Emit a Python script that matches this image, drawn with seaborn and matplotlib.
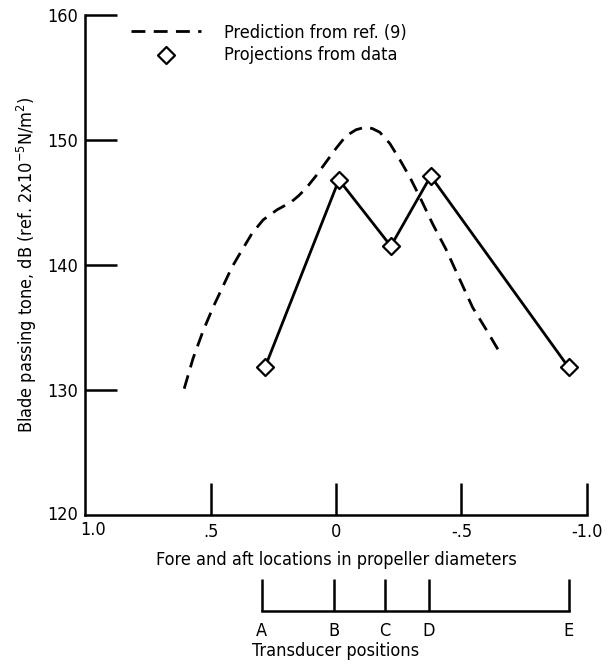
import matplotlib
matplotlib.use("Agg")
import matplotlib.pyplot as plt
import seaborn as sns
import pandas as pd

# Prediction from ref. (9) - dashed curve
pred_x = [0.605, 0.57, 0.53, 0.49, 0.45, 0.415, 0.38, 0.335, 0.29, 0.235, 0.18, 0.15, 0.12, 0.08,
          0.04, 0.0, -0.04, -0.08, -0.115, -0.145, -0.175, -0.215, -0.255, -0.295, -0.335,
          -0.385, -0.44, -0.49, -0.545, -0.6, -0.653]
pred_y = [130.1, 132.5, 134.7, 136.6, 138.3, 139.8, 141.0, 142.5, 143.6, 144.4, 145.0, 145.5, 146.1, 147.1,
          148.2, 149.3, 150.3, 150.8, 151.0, 150.9, 150.6, 149.7, 148.4, 147.0, 145.4,
          143.3, 141.2, 139.0, 136.6, 134.8, 133.0]

# Projections from data
proj_x = [0.283, -0.012, -0.219, -0.378, -0.928]
proj_y = [131.8, 146.8, 141.5, 147.1, 131.8]

# Transducer positions
trans_labels = ["A", "B", "C", "D", "E"]
trans_x = [0.295, 0.008, -0.195, -0.37, -0.928]

xticks = [1.0, 0.5, 0.0, -0.5, -1.0]
xticklabels = ["1.0", ".5", "0", "-.5", "-1.0"]
yticks = [120, 130, 140, 150, 160]

sns.set_style("white")
plt.rcParams['font.family'] = ['DejaVu Sans']
plt.rcParams['font.stretch'] = 'condensed'
for k in ["text.color", "axes.labelcolor", "xtick.color", "ytick.color", "axes.edgecolor"]:
    plt.rcParams[k] = "black"

pred = pd.DataFrame({"x": pred_x, "y": pred_y})
proj = pd.DataFrame({"x": proj_x, "y": proj_y})

fs = 13

fig = plt.figure(figsize=(6.08, 6.68), dpi=100)
ax = fig.add_axes([0.140, 0.229, 0.825, 0.749])

sns.lineplot(data=pred, x="x", y="y", sort=False, color="black", lw=2,
             dashes=False, ax=ax, label="Prediction from ref. (9)")
ax.lines[-1].set_dashes((5, 3))
sns.lineplot(data=proj, x="x", y="y", sort=False, color="black", lw=2, ax=ax)
sns.scatterplot(data=proj, x="x", y="y", marker="D", s=75, facecolor="white",
                edgecolor="black", linewidth=1.6, zorder=5, ax=ax,
                label="Projections from data")

ax.set_xlim(1.0, -1.0)
ax.set_ylim(120, 160)
ax.set_xticks(xticks[1:])
ax.set_xticklabels(xticklabels[1:])
ax.set_yticks(yticks[1:])
for sp in ["top", "right"]:
    ax.spines[sp].set_visible(False)
for sp in ["left", "bottom"]:
    ax.spines[sp].set_linewidth(1.8)
ax.tick_params(axis="both", direction="in", length=23, width=1.8, labelsize=fs, pad=5,
               bottom=True, left=True)
ax.tick_params(axis="x", pad=6)
# corner labels 1.0 and 120 sit off the spines
ax.text(0.97, -0.012, "1.0", transform=ax.get_xaxis_transform(), ha="center", va="top", fontsize=fs)
ax.text(-0.014, 120, "120", transform=ax.get_yaxis_transform(), ha="right", va="center", fontsize=fs)
ax.set_xlabel("Fore and aft locations in propeller diameters", fontsize=fs, labelpad=7)
ax.set_ylabel("Blade passing tone, dB (ref. 2x10$^{-5}$N/m$^2$)", fontsize=fs, labelpad=6)
ax.legend(loc="upper left", bbox_to_anchor=(0.073, 1.0), frameon=False, fontsize=fs,
          handlelength=3.9, handletextpad=1.25, labelspacing=0.25, borderpad=0)

# Transducer positions scale
ax2 = fig.add_axes([0.140, 0.085, 0.825, 0.04])
ax2.set_xlim(1.0, -1.0)
ax2.set_ylim(0, 1)
ax2.patch.set_visible(False)
for sp in ["top", "right", "left"]:
    ax2.spines[sp].set_visible(False)
ax2.spines["bottom"].set_bounds(trans_x[-1], trans_x[0])
ax2.spines["bottom"].set_linewidth(1.8)
ax2.set_yticks([])
ax2.set_xticks(trans_x)
ax2.set_xticklabels(trans_labels)
ax2.tick_params(axis="x", direction="in", length=23, width=1.8, labelsize=fs, pad=8, bottom=True)
ax2.set_xlabel("Transducer positions", fontsize=fs, labelpad=0)
ax2.xaxis.set_label_coords(0.5, -1.15)

fig.savefig("out.png", dpi=100)
